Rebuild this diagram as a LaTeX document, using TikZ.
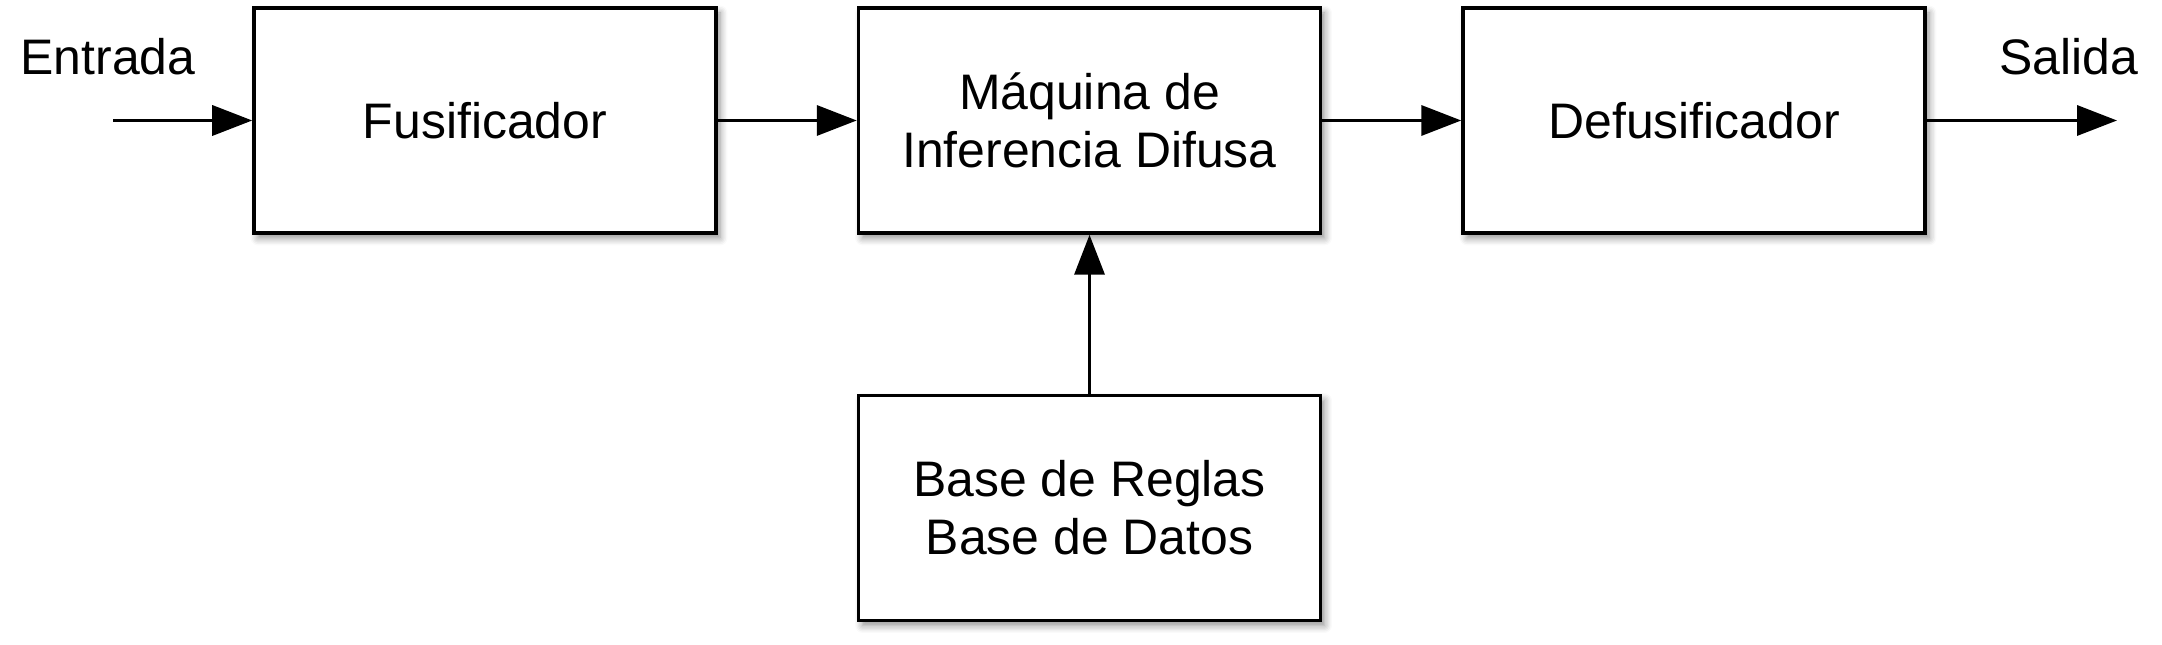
\documentclass[tikz,border=0pt]{standalone}
\usepackage{fontspec}
\setmainfont{Liberation Sans}
\usetikzlibrary{arrows.meta,positioning,calc,shadows.blur}
\tikzset{
  block/.style={draw=black,fill=white,line width=1pt,minimum width=4.62cm,
    minimum height=2.25cm,align=center,font=\fontsize{14.2}{16.5}\selectfont,
    blur shadow={shadow xshift=.04cm,shadow yshift=-.05cm,shadow blur steps=6,shadow opacity=45}},
  label/.style={font=\fontsize{14.2}{16.5}\selectfont},
  arrow/.style={-{Triangle[length=4mm,width=3mm]},draw=black,line width=1pt}
}
\begin{document}
\begin{tikzpicture}[node distance=1.39cm]
  \useasboundingbox (0,0) rectangle (21.62,-6.45);
  \node[block] (fus) at (4.85,-1.205) {Fusificador};
  \node[block,right=of fus] (maq) {Máquina de\\Inferencia Difusa};
  \node[block,right=of maq] (def) {Defusificador};
  \node[block,below=1.59cm of maq] (base) {Base de Reglas\\Base de Datos};
  \coordinate (in) at (1.13,-1.205);
  \coordinate (out) at (21.17,-1.205);
  \node[label] (lin) at (1.08,-0.57) {Entrada};
  \node[label] (lout) at (20.69,-0.57) {Salida};
  \draw[arrow] (in)--(fus); \draw[arrow] (fus)--(maq); \draw[arrow] (maq)--(def);
  \draw[arrow] (def)--(out); \draw[arrow] (base)--(maq);
\end{tikzpicture}
\end{document}
